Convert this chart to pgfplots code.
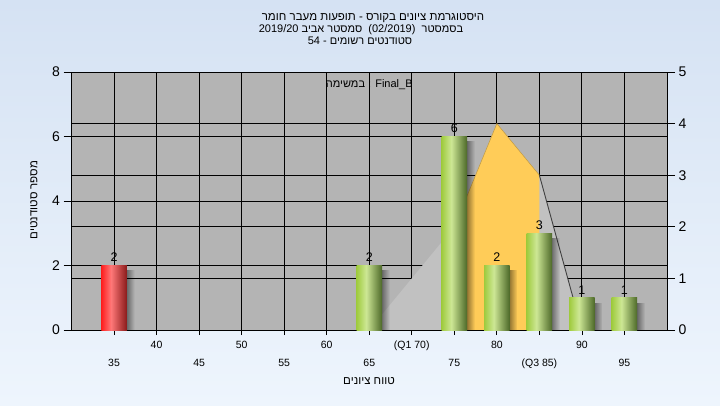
\documentclass[border=0pt]{standalone}
\usepackage{pgfplots}
\pgfplotsset{compat=1.18}
\usepackage{fontspec}
\setmainfont{Liberation Sans}
\newfontfamily\heb[Script=Hebrew]{Liberation Sans}
\usetikzlibrary{fadings}
\TeXXeTstate=1

\definecolor{bgtop}{HTML}{D5E2F3}
\definecolor{bgbot}{HTML}{EEF5FD}
\definecolor{plotbg}{HTML}{B4B4B4}
\definecolor{poly}{HTML}{C1C1C1}
\definecolor{yel}{HTML}{FFCC58}
\definecolor{g1}{HTML}{9FCB3E}
\definecolor{g2}{HTML}{CDE795}
\definecolor{g3}{HTML}{4C6828}
\definecolor{r1}{HTML}{FF1E1E}
\definecolor{r2}{HTML}{FF7878}
\definecolor{r3}{HTML}{8A1A1A}

\pgfdeclarehorizontalshading{greenbar}{100bp}{color(0bp)=(g1); color(25bp)=(g1); color(44bp)=(g2); color(75bp)=(g3); color(100bp)=(g3)}
\pgfdeclarehorizontalshading{redbar}{100bp}{color(0bp)=(r1); color(25bp)=(r1); color(44bp)=(r2); color(75bp)=(r3); color(100bp)=(r3)}
\tikzfading[name=shadowfade, left color=transparent!0, right color=transparent!100]

\pgfplotsset{
  base/.style={
    at={(71.5pt,75pt)}, anchor=south west, scale only axis,
    width=595.5pt, height=258pt,
    xmin=30, xmax=100,
    /pgf/number format/assume math mode=true,
    tick align=outside, major tick length=8pt,
    tick style={black, line width=0.8pt},
  },
  barlab/.style={nodes near coords, every node near coord/.append style={font=\fontsize{12.5}{14}\selectfont, black}},
}
\newcommand{\shadowbar}[2]{\addplot[ybar, bar width=12pt, bar shift=14.5pt, fill=black, fill opacity=0.65, draw=none, path fading=shadowfade] coordinates {(#1,#2)};}
\newcommand{\gbar}[2]{\addplot[ybar, bar width=25.5pt, bar shift=0pt, shade, shading=greenbar, draw=none, barlab] coordinates {(#1,#2)};}
\newcommand{\rbar}[2]{\addplot[ybar, bar width=25.5pt, bar shift=0pt, shade, shading=redbar, draw=none, barlab] coordinates {(#1,#2)};}

\begin{document}
\begin{tikzpicture}[x=1pt,y=1pt]
\shade[top color=bgtop,bottom color=bgbot] (0,0) rectangle (720,405);

% Axis A: background, grid, second row of x labels
\begin{axis}[base,
  ymin=0, ymax=8,
  axis background/.style={fill=plotbg},
  axis line style={draw=none},
  xtick={35,40,...,95},
  xticklabels={35,,45,,55,,65,,75,,(Q3 85),,95},
  xticklabel style={font=\fontsize{10.5}{12}\selectfont, anchor=base, yshift=-28pt},
  major x tick style={black, line width=0.8pt},
  x tick style={/pgfplots/major tick length=5pt},
  ytick={0,2,4,6,8}, yticklabels={},
  major y tick style={draw=none},
  xtick pos=bottom, ytick pos=left,
  xmajorgrids, ymajorgrids,
  grid style={black, line width=0.9pt},
]
\end{axis}

% Axis B: right scale, grid, distribution polygon
\begin{axis}[base,
  ymin=0, ymax=5,
  axis x line=none, axis y line*=right,
  axis line style={black, line width=0.9pt},
  ytick={0,1,2,3,4,5},
  yticklabel style={font=\fontsize{14}{16}\selectfont},
  ymajorgrids, grid style={black, line width=0.9pt},
]
\addplot[fill=poly, draw=none] coordinates {(65,0) (70,1) (75,2) (80,4) (85,3) (90,0)} \closedcycle;
\addplot[fill=yel, draw=none] coordinates {(75,2) (80,4) (85,3)} \closedcycle;
\addplot[draw=yel!75!black, line width=0.5pt] coordinates {(75,2) (80,4) (85,3)};
\addplot[draw=black!75, line width=0.9pt] coordinates {(85,3) (90,0)};
\end{axis}

% Axis C: bars, frame, left scale, first row of x labels
\begin{axis}[base,
  ymin=0, ymax=8,
  axis line style={black, line width=0.9pt},
  xtick={35,40,...,95},
  xticklabels={,40,,50,,60,,(Q1 70),,80,,90,},
  xticklabel style={font=\fontsize{10.5}{12}\selectfont, anchor=base, yshift=-10pt},
  major x tick style={draw=none},
  ytick={0,2,4,6,8},
  yticklabel style={font=\fontsize{14}{16}\selectfont},
  xtick pos=bottom, ytick pos=left,
]
\shadowbar{35}{1.85}
\shadowbar{65}{1.85}
\shadowbar{75}{5.85}
\shadowbar{80}{1.85}
\shadowbar{85}{2.85}
\shadowbar{90}{0.85}
\shadowbar{95}{0.85}
\rbar{35}{2}
\gbar{65}{2}
\gbar{75}{6}
\gbar{80}{2}
\gbar{85}{3}
\gbar{90}{1}
\gbar{95}{1}
\node[font=\fontsize{11}{13}\selectfont] at (axis cs:65,7.6) {{\heb\beginR במשימה\endR} : Final\_B};
\end{axis}

% Titles and axis labels
\node[anchor=base, font=\fontsize{11.5}{13}\selectfont] at (373,384.5) {\heb\beginR היסטוגרמת ציונים בקורס - תופעות מעבר חומר\endR};
\node[anchor=base, font=\fontsize{11}{13}\selectfont] at (361,372) {\heb\beginR בסמסטר\ \ \beginL(02/2019)\endL{}\ \ סמסטר אביב \beginL2019/20\endL\endR};
\node[anchor=base, font=\fontsize{11}{13}\selectfont] at (360,360) {\heb\beginR סטודנטים רשומים - \beginL54\endL\endR};
\node[font=\fontsize{11.5}{13}\selectfont] at (369,24) {\heb\beginR טווח ציונים\endR};
\node[rotate=90, font=\fontsize{11.5}{13}\selectfont] at (34,205) {\heb\beginR מספר סטודנטים\endR};

\pgfresetboundingbox
\useasboundingbox (0,0) rectangle (720,405);
\end{tikzpicture}
\end{document}
